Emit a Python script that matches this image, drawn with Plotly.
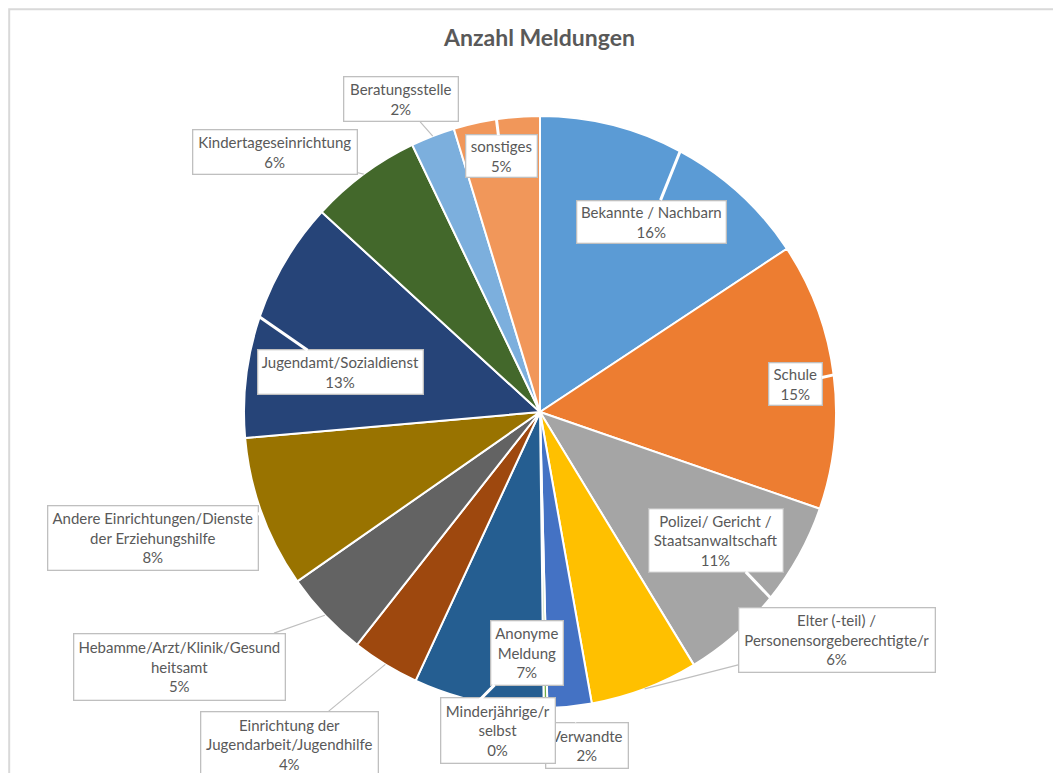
import math
import plotly.graph_objects as go

# ---- data ----
categories = [
    "Bekannte / Nachbarn", "Schule", "Polizei/ Gericht / Staatsanwaltschaft",
    "Elter (-teil) / Personensorgeberechtigte/r", "Verwandte", "Minderjährige/r selbst",
    "Anonyme Meldung", "Einrichtung der Jugendarbeit/Jugendhilfe",
    "Hebamme/Arzt/Klinik/Gesundheitsamt", "Andere Einrichtungen/Dienste der Erziehungshilfe",
    "Jugendamt/Sozialdienst", "Kindertageseinrichtung", "Beratungsstelle", "sonstiges",
]
display_labels = [
    "Bekannte / Nachbarn", "Schule", "Polizei/ Gericht /<br>Staatsanwaltschaft",
    "Elter (-teil) /<br>Personensorgeberechtigte/r", "Verwandte", "Minderjährige/r<br>selbst",
    "Anonyme<br>Meldung", "Einrichtung der<br>Jugendarbeit/Jugendhilfe",
    "Hebamme/Arzt/Klinik/Gesund<br>heitsamt", "Andere Einrichtungen/Dienste<br>der Erziehungshilfe",
    "Jugendamt/Sozialdienst", "Kindertageseinrichtung", "Beratungsstelle", "sonstiges",
]
values = [15.7, 14.6, 11.0, 5.9, 2.4, 0.2, 7.1, 3.7, 4.7, 8.3, 13.2, 6.1, 2.4, 4.7]
colors = ["#5B9BD5", "#ED7D31", "#A5A5A5", "#FFC000", "#4472C4", "#70AD47",
          "#255E91", "#9E480E", "#636363", "#997300", "#264478", "#43682B",
          "#7CAFDD", "#F1975A"]

# ---- layout (target page pixels) ----
W, H = 1061, 773
OFF = 8  # page body margin offset
CX, CY, R = 540, 412, 296
# label box centre (px), width, height, pointer style
boxes = [
    (652, 221.5, 150, 43, "in"),
    (795, 383.5, 54, 43, "in"),
    (715.5, 540, 135, 64, "in"),
    (836.5, 639.5, 197, 65, "out"),
    (586.5, 745, 83, 46, "in"),
    (497.5, 730, 115, 66, "in"),
    (526.5, 652.5, 73, 65, "in"),
    (289, 744, 178, 66, "out"),
    (179, 666.5, 212, 67, "out"),
    (152.5, 537.5, 211, 65, "in"),
    (340, 372.5, 166, 45, "in"),
    (275.5, 152.5, 165, 45, "out"),
    (400.5, 99.5, 115, 45, "out"),
    (501, 156.5, 72, 43, "in"),
]

def px(x):
    return (x - OFF) / W

def py(y):
    return 1 - (y - OFF) / H

FONT = "Lato, Carlito, Calibri, sans-serif"

fig = go.Figure(go.Pie(
    labels=categories, values=values, sort=False, direction="clockwise",
    rotation=0, textinfo="none", hoverinfo="label+percent",
    marker=dict(colors=colors, line=dict(color="white", width=2)),
    domain=dict(x=[px(CX - R), px(CX + R)], y=[py(CY + R), py(CY - R)]),
    showlegend=False,
))

total = sum(values)
annotations = []
cum = 0.0
for i, v in enumerate(values):
    ang = 2 * math.pi * (cum + v / 2) / total
    cum += v
    tx = CX + R * math.sin(ang)
    ty = CY - R * math.cos(ang)
    bx, by, bw, bh, style = boxes[i]
    pct = round(v / total * 100)
    annotations.append(dict(
        x=px(tx), y=py(ty), xref="paper", yref="paper",
        ax=bx - tx, ay=by - ty, axref="pixel", ayref="pixel",
        text=f"{display_labels[i]}<br>{pct}%",
        showarrow=True, arrowhead=0, standoff=0,
        arrowcolor="#BFBFBF" if style == "out" else "white",
        arrowwidth=1.2 if style == "out" else 3,
        bgcolor="white", bordercolor="#BFBFBF", borderwidth=1.3, borderpad=0,
        width=bw - 2, height=bh - 2,
        font=dict(family=FONT, size=15, color="#595959"),
        align="center", valign="middle",
    ))

annotations.append(dict(
    x=px(539), y=py(37), xref="paper", yref="paper", showarrow=False,
    text="<b>Anzahl Meldungen</b>",
    font=dict(family=FONT, size=23, color="#595959"),
    xanchor="center", yanchor="middle",
))

fig.update_layout(
    width=W, height=H,
    margin=dict(l=0, r=0, t=0, b=0),
    paper_bgcolor="white", plot_bgcolor="white",
    annotations=annotations,
    shapes=[dict(type="rect", xref="paper", yref="paper",
                 x0=1.2 / W, x1=1.05, y0=-0.05, y1=1 - 1.2 / H,
                 line=dict(color="#D9D9D9", width=2), fillcolor="rgba(0,0,0,0)")],
)

fig.write_html("out.html")
